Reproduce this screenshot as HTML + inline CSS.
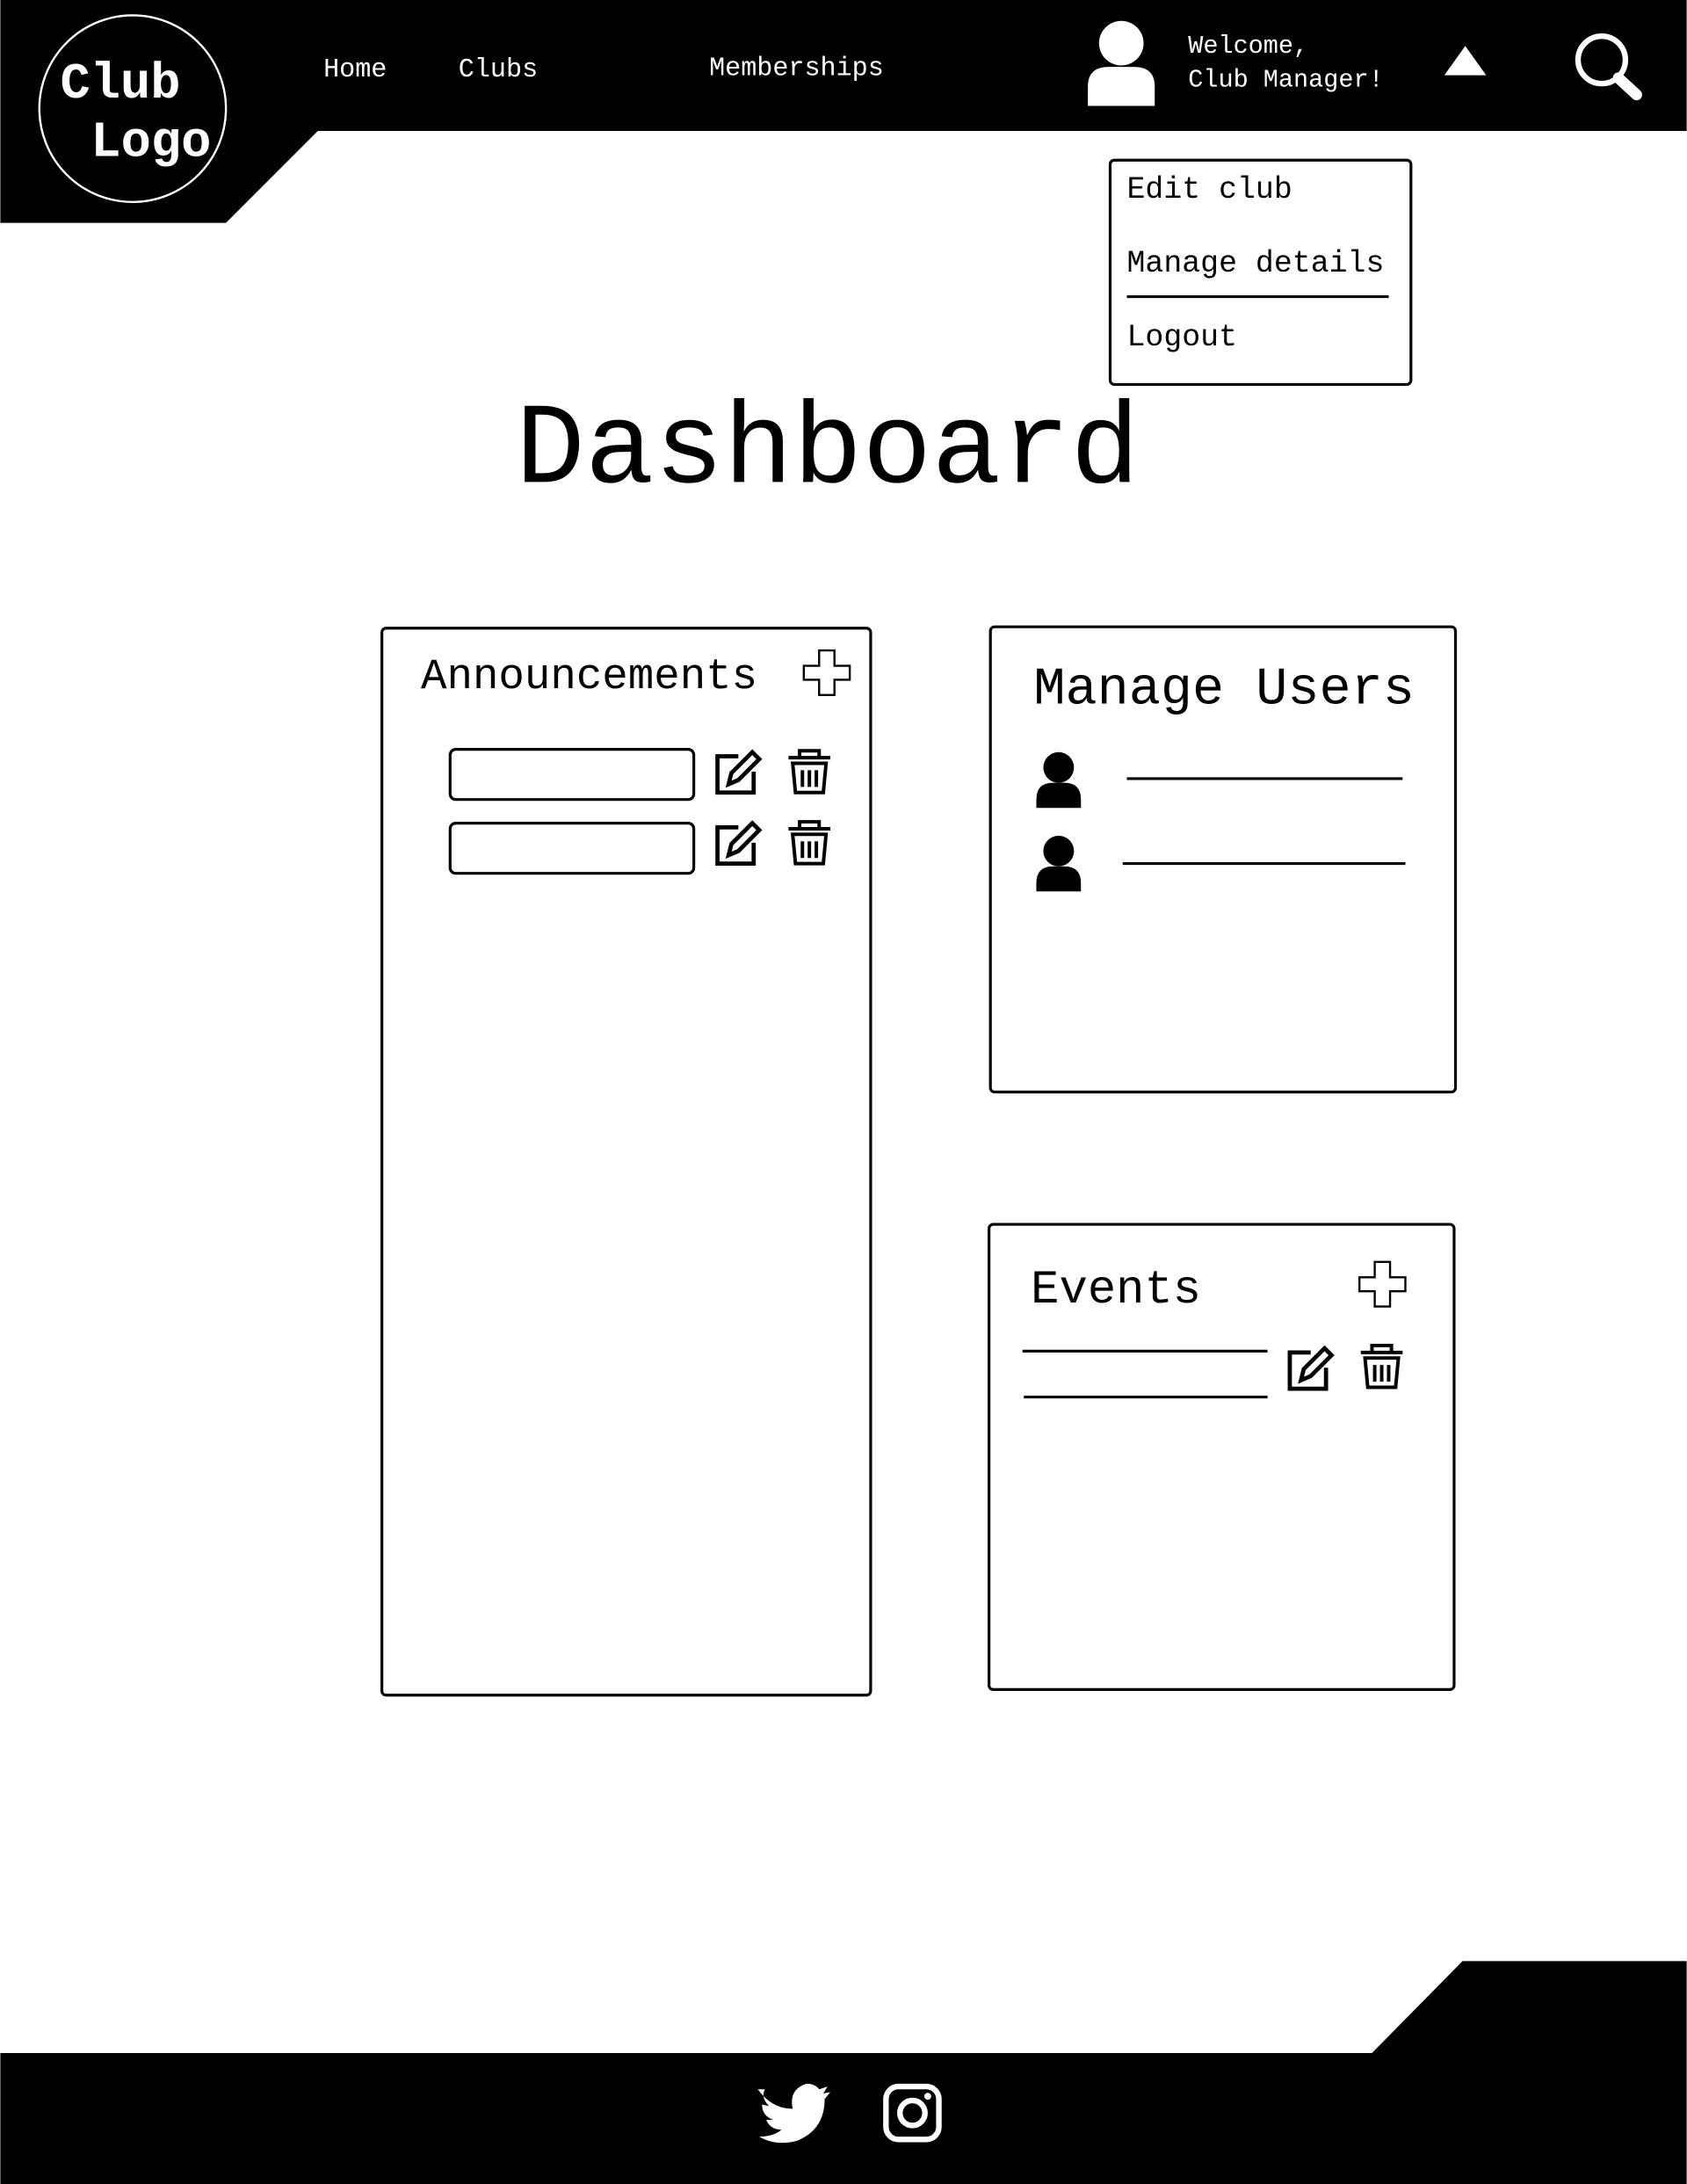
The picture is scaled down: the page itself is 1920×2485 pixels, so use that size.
<!DOCTYPE html>
<html><head><meta charset="utf-8"><style>
html,body{margin:0;padding:0;background:#fff;}
svg{display:block;}
text{font-family:"Liberation Mono",monospace;}
</style></head><body>
<svg width="1920" height="2485" viewBox="0 0 1211 1568" xmlns="http://www.w3.org/2000/svg">
<rect width="1211" height="1568" fill="#fff"/>
<polygon points="0,0 1211,0 1211,94 228,94 162,160 0,160" fill="#000"/>
<circle cx="95" cy="78" r="67" fill="none" stroke="#fff" stroke-width="1.5"/>
<text x="43" y="70" font-size="36" font-weight="bold" fill="#fff">Club</text>
<text x="65" y="112" font-size="36" font-weight="bold" fill="#fff">Logo</text>
<text x="232" y="55" font-size="19" fill="#fff">Home</text>
<text x="329" y="55" font-size="19" fill="#fff">Clubs</text>
<text x="509" y="54" font-size="19" fill="#fff">Memberships</text>
<circle cx="805" cy="31" r="16" fill="#fff"/>
<path d="M781,76 L781,62 Q781,48 796,48 L814,48 Q829,48 829,62 L829,76 Z" fill="#fff"/>
<text x="853" y="38" font-size="18" fill="#fff">Welcome,</text>
<text x="853" y="62" font-size="18" fill="#fff">Club Manager!</text>
<polygon points="1037,54 1052,33 1067,54" fill="#fff"/>
<circle cx="1150" cy="43" r="17" fill="none" stroke="#fff" stroke-width="4"/>
<line x1="1162" y1="56" x2="1175" y2="68" stroke="#fff" stroke-width="8" stroke-linecap="round"/>
<rect x="797" y="115" width="216" height="161" rx="3" fill="#fff" stroke="#000" stroke-width="2"/>
<text x="809" y="142" font-size="22">Edit club</text>
<text x="809" y="195" font-size="22">Manage details</text>
<line x1="809" y1="213" x2="997" y2="213" stroke="#000" stroke-width="2"/>
<text x="809" y="248" font-size="22">Logout</text>
<text x="370" y="346" font-size="83">Dashboard</text>
<rect x="274" y="451" width="351" height="766" rx="3" fill="none" stroke="#000" stroke-width="2"/>
<text x="302" y="494" font-size="31">Announcements</text>
<path id="plus" d="M588,467 h11 v11 h11 v10 h-11 v11 h-11 v-11 h-11 v-10 h11 z" fill="none" stroke="#000" stroke-width="1.5"/>
<rect x="323" y="538" width="175" height="36" rx="4" fill="none" stroke="#000" stroke-width="2"/>
<rect x="323" y="591" width="175" height="36" rx="4" fill="none" stroke="#000" stroke-width="2"/>
<g id="edit" fill="none" stroke="#000" stroke-width="3">
<path d="M530,543 h-15 v26 h26 v-15"/>
<path d="M523,563 l2,-8 l15,-15 l5,5 l-15,15 z"/>
</g>
<g id="trash" fill="none" stroke="#000" stroke-width="2.5">
<path d="M566,544 h30 M574,544 v-5 h14 v5"/>
<path d="M569,548 l2,21 h20 l2,-21 z"/>
<path d="M576,553 v12 M581,553 v12 M586,553 v12"/>
</g>
<use href="#edit" x="0" y="51"/>
<use href="#trash" x="0" y="51"/>
<rect x="711" y="450" width="334" height="334" rx="3" fill="none" stroke="#000" stroke-width="2"/>
<text x="742" y="505" font-size="38">Manage Users</text>
<g id="u"><circle cx="760" cy="551" r="11"/><path d="M744,580 v-6 q0,-12 12,-12 h8 q12,0 12,12 v6 z"/></g>
<use href="#u" x="0" y="60"/>
<line x1="809" y1="559" x2="1007" y2="559" stroke="#000" stroke-width="2"/>
<line x1="806" y1="620" x2="1009" y2="620" stroke="#000" stroke-width="2"/>
<rect x="710" y="879" width="334" height="334" rx="3" fill="none" stroke="#000" stroke-width="2"/>
<text x="740" y="935" font-size="34">Events</text>
<use href="#plus" x="399" y="439"/>
<line x1="734" y1="970" x2="910" y2="970" stroke="#000" stroke-width="2"/>
<line x1="735" y1="1003" x2="910" y2="1003" stroke="#000" stroke-width="2"/>
<use href="#edit" x="411" y="428"/>
<use href="#trash" x="411" y="427"/>
<polygon points="985,1474 1050,1408 1211,1408 1211,1568 0,1568 0,1474" fill="#000"/>
<path d="M544,1500 q10,14 25,14 q-3,-14 10,-18 q6,0 9,4 l6,-2 l-3,5 l5,-1 l-4,5 q0,22 -20,30 q-15,4 -27,-3 q10,0 16,-5 q-8,0 -11,-7 h5 q-8,-3 -8,-11 l5,1 q-6,-6 -3,-12 z" fill="#fff"/>
<rect x="636" y="1498" width="38" height="38" rx="9" fill="none" stroke="#fff" stroke-width="4"/>
<circle cx="655" cy="1517" r="9" fill="none" stroke="#fff" stroke-width="4"/>
<circle cx="666" cy="1505" r="2.5" fill="#fff"/>
</svg>
</body></html>
